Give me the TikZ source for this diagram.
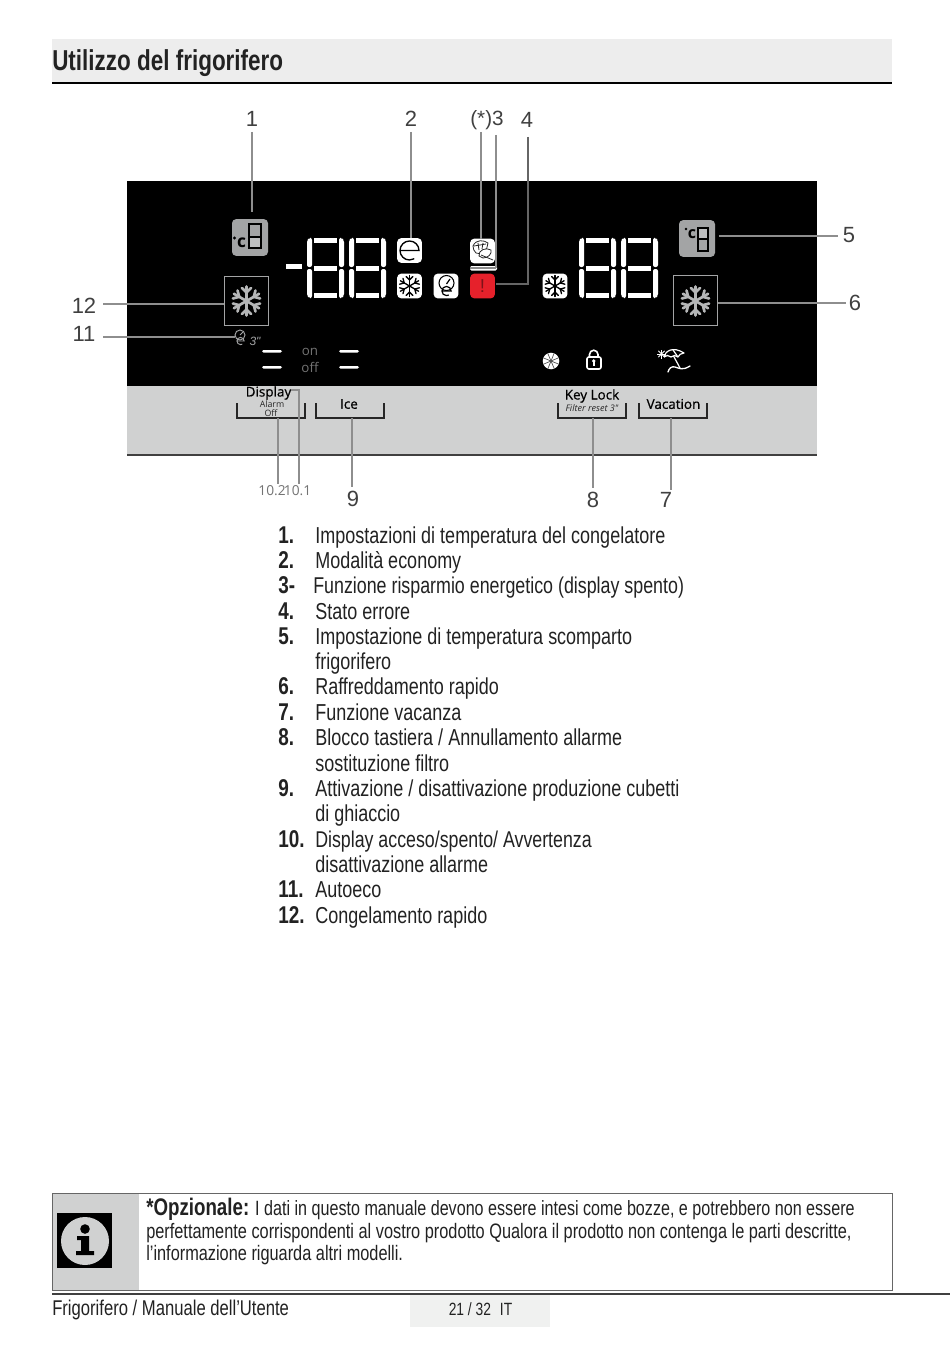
\documentclass[tikz,border=0pt]{standalone}
\usepackage{fontspec}
\setmainfont[FakeStretch=0.78]{Liberation Sans}
\newfontfamily\panelfont{Open Sans}
\newfontfamily\panelbold[RawFeature={embolden=0.6}]{Open Sans}
\newfontfamily\numfont{Liberation Sans}
\definecolor{band}{HTML}{EDEDED}
\definecolor{panelgrey}{HTML}{D0D1D1}
\definecolor{icongrey}{HTML}{A3A4A5}
\definecolor{leader}{HTML}{8E8E8E}
\definecolor{alarmred}{HTML}{E6212B}
\definecolor{textk}{HTML}{222222}
\definecolor{pagegrey}{HTML}{F0F1F0}
\tikzset{
  px/.style={x=0.75pt,y=-0.75pt},
  callout/.style={font=\numfont\fontsize{16.5}{18}\selectfont,text=black!75,inner sep=0pt},
  smallcall/.style={font=\panelfont\fontsize{10.3}{12}\selectfont,text=black!55,inner sep=0pt},
  leaderline/.style={draw=leader,line width=1.1pt},
  listnum/.style={anchor=base west,inner sep=0pt,font=\bfseries\fontsize{18.2}{20}\selectfont,text=textk},
  listtxt/.style={anchor=base west,inner sep=0pt,font=\fontsize{17.3}{20}\selectfont,text=textk},
  notetxt/.style={anchor=base west,inner sep=0pt,font=\fontsize{15.7}{17}\selectfont,text=textk},
  whiteicon/.style={fill=white,rounded corners=3pt,draw=none,minimum width=18.5pt,minimum height=18.5pt,inner sep=0pt},
  greyicon/.style={fill=icongrey,rounded corners=3pt,draw=none,minimum width=27pt,minimum height=27.5pt,inner sep=0pt},
  flakebox/.style={draw=icongrey,line width=0.8pt,fill=black,minimum width=33.5pt,minimum height=37pt,inner sep=0pt},
  btn/.style={draw=black!85,line width=1.1pt},
  btnlabel/.style={font=\panelbold\fontsize{10.1}{12}\selectfont,text=black,inner sep=0pt},
  btnsmall/.style={font=\panelfont\fontsize{6.6}{7}\selectfont,text=black!85,inner sep=0pt},
  seg/.style={fill=white,draw=none},
}
% seven-segment digit: left x, top y (pixels)
\newcommand{\sevenseg}[2]{%
 \begin{scope}[shift={(#1,#2)}]
  \fill[seg,rounded corners=1.5pt] (0,2)--(2,0)--(5,0)--(5,29)--(0,29)--cycle;
  \fill[seg,rounded corners=1.5pt] (0,31)--(5,31)--(5,60)--(2,60)--(0,58)--cycle;
  \fill[seg,rounded corners=1.5pt] (32,0)--(35,0)--(37,2)--(37,29)--(32,29)--cycle;
  \fill[seg,rounded corners=1.5pt] (32,31)--(37,31)--(37,58)--(35,60)--(32,60)--cycle;
  \fill[seg] (7,0) rectangle (30,5);
  \fill[seg] (7,27.5) rectangle (30,32.5);
  \fill[seg] (7,55) rectangle (30,60);
 \end{scope}}
% snowflake: centre, radius, colour, width
\newcommand{\flake}[5]{%
 \begin{scope}[shift={(#1,#2)}]
  \foreach \a in {0,60,...,300}{
   \begin{scope}[rotate=\a+30]
    \draw[#4,line width=#5,line cap=round] (0,0)--(#3,0);
    \draw[#4,line width=#5,line cap=round] (0.58*#3,0)--(0.9*#3,0.32*#3);
    \draw[#4,line width=#5,line cap=round] (0.58*#3,0)--(0.9*#3,-0.32*#3);
   \end{scope}}
 \end{scope}}
% "e" symbol: centre, radius, colour, width
\newcommand{\esym}[5]{%
 \begin{scope}[shift={(#1,#2)}]
  \draw[#4,line width=#5] (-#3,0)--(#3,0) arc[start angle=0,end angle=-300,radius=#3];
 \end{scope}}
\begin{document}
\begin{tikzpicture}[px]
\useasboundingbox (0,0) rectangle (950,1348);
\fill[white] (0,0) rectangle (950,1348);
% header
\fill[band] (52,39) rectangle (892,82);
\draw[black,line width=1.5pt] (52,83) -- (892,83);
\node[anchor=base west,inner sep=0pt,font=\bfseries\fontsize{21.6}{24}\selectfont,text=textk] (title) at (52,71) {Utilizzo del frigorifero};
% panel
\fill[black] (127,181) rectangle (817,386);
\fill[panelgrey] (127,386) rectangle (817,455);
\draw[black!75,line width=0.9pt] (127,455) -- (817,455);
% digits
\fill[white] (286,264) rectangle (302,269);
\sevenseg{307}{238}\sevenseg{349}{238}
\sevenseg{579}{238}\sevenseg{621}{238}
% grey icons
\node[greyicon] (ic1) at (250,237.5) {};
\node[inner sep=0pt,font=\panelfont\bfseries\fontsize{13}{14}\selectfont,text=black] (ic1c) at (241.5,243) {c};
\fill[black] (234.5,238) circle (1.6);
\fill[icongrey!70!white] (249,237) rectangle (261,248);
\draw[black,line width=1pt] (249,224) rectangle (261,248);
\draw[black,line width=1pt] (249,237) -- (261,237);
\node[greyicon] (ic5) at (697,238.5) {};
\node[inner sep=0pt,font=\panelfont\bfseries\fontsize{12}{13}\selectfont,text=black] (ic5c) at (692,234) {c};
\fill[black] (686,229) circle (1.4);
\fill[icongrey!70!white] (698,228) rectangle (708,239);
\draw[black,line width=1pt] (698,228) rectangle (708,251);
\draw[black,line width=1pt] (698,239) -- (708,239);
% flake boxes
\node[flakebox] (bx12) at (246.5,301) {};
\flake{246.5}{301}{14.5}{icongrey!80!white}{2pt}
\node[flakebox] (bx6) at (695.5,300.5) {};
\flake{695.5}{301}{14.5}{icongrey!80!white}{2pt}
% white icons
\node[whiteicon] (icE) at (409.5,250.5) {};
\esym{409.5}{250.5}{9.5}{black}{1pt}
\node[whiteicon] (icS1) at (409.5,286) {};
\flake{409.5}{286}{10.5}{black}{1pt}
\node[whiteicon] (icAE) at (446,286) {};
\draw[black,line width=0.8pt] (446.5,283) circle (7.5);
\draw[black,line width=0.9pt] (446.5,284) -- (450,279);
\esym{446.5}{291}{4.6}{black}{0.9pt}
\node[whiteicon] (icLeaf) at (482.5,251) {};
\draw[black!85,line width=0.6pt] (473,246) .. controls (476,239) and (484,240) .. (488,243) .. controls (488,250) and (481,256) .. (476,253) .. controls (474,251) and (473,249) .. (473,246);
\draw[black!85,line width=0.6pt] (474,246) -- (486,244) (478,243) -- (479,250) (483,243) -- (482,249);
\draw[black!85,line width=0.6pt,fill=white] (479,256) .. controls (478,250) and (486,247) .. (491,250) .. controls (492,254) and (488,258) .. (483,258) -- cycle;
\draw[black!85,line width=0.6pt] (481,255) -- (493,260);
\fill[white,rounded corners=1pt] (470,266) rectangle (497,270.5);
\node[fill=alarmred,rounded corners=3pt,minimum width=18.5pt,minimum height=18.5pt,inner sep=0pt,font=\numfont\fontsize{14}{15}\selectfont,text=alarmred!55!black] (icErr) at (482.5,286) {!};
\node[whiteicon] (icS2) at (555,286) {};
\flake{555}{286}{10.5}{black}{1pt}
% autoeco small
\draw[icongrey,line width=0.7pt] (240,335) circle (5);
\draw[icongrey,line width=0.7pt] (240,335) -- (243,332);
\esym{240.5}{341}{3.6}{icongrey}{0.7pt}
\node[inner sep=0pt,font=\numfont\itshape\fontsize{9}{10}\selectfont,text=icongrey] (three) at (255,341) {3"};
% on/off
\foreach \xa/\xb in {262/282,339/359}{
  \fill[white,rounded corners=1pt] (\xa,350) rectangle (\xb,352.5);
  \fill[white,rounded corners=1pt] (\xa,366) rectangle (\xb,368.5);
}
\node[inner sep=0pt,font=\panelfont\fontsize{10}{12}\selectfont,text=black!55!white] (on) at (310,351.5) {on};
\node[inner sep=0pt,font=\panelfont\fontsize{10}{12}\selectfont,text=black!55!white] (off) at (310,367.5) {off};
% bottom icons
\fill[white] (551,361) circle (8.3);
\foreach \a in {0,45,...,315}{\draw[black!70,line width=0.5pt] (551,361) -- ++(\a+22:8.5);}
\draw[white,line width=1.2pt,rounded corners=1.5pt] (587,357) rectangle (601,369);
\draw[white,line width=1.2pt] (589.5,357) -- (589.5,354.5) arc[start angle=180,end angle=360,radius=4.25] -- (598,357);
\fill[white] (593.7,361) circle (1.8);
\fill[white] (592.7,361) rectangle (594.7,366);
% beach
\draw[white,line width=0.9pt,line join=round] (664,357) .. controls (665,351) and (673,346) .. (684,353) .. controls (681,353) and (679,355) .. (678,357) .. controls (676,355) and (673,355) .. (671,357) .. controls (669,355) and (666,355) .. (664,357);
\draw[white,line width=0.9pt] (673,350) -- (678,357) (673.5,356) -- (680,368);
\draw[white,line width=1pt,line cap=round] (668,372) .. controls (669,368) and (672,366) .. (675,367) .. controls (679,368) and (682,371) .. (690,366);
\foreach \a in {0,45,...,315}{\draw[white,line width=0.6pt] (661.5,354) -- ++(\a:4.5);}
% buttons
\draw[btn] (237,403) |- (305,418) -- (305,403);
\coordinate (b10) at (278,418);
\draw[btn] (316,403) |- (384,418) -- (384,403);
\coordinate (b9) at (352,418);
\draw[btn] (558,403) |- (626,418) -- (626,403);
\coordinate (b8) at (593,418);
\draw[btn] (639,403) |- (707,418) -- (707,403);
\coordinate (b7) at (671,418);
\node[btnlabel] (tDisplay) at (268.5,393) {Display};
\node[btnsmall] (tAlarm) at (272,404) {Alarm};
\node[btnsmall] (tOff) at (271,413) {Off};
\node[btnlabel] (tIce) at (349,404) {Ice};
\node[btnlabel] (tKey) at (592,396) {Key Lock};
\node[btnsmall,font=\panelfont\itshape\fontsize{6.8}{7}\selectfont] (tFilter) at (592,408.5) {Filter reset 3"};
\node[btnlabel] (tVac) at (673.5,404) {Vacation};
% labels
\node[callout,font=\numfont\fontsize{15.5}{18}\selectfont] (n3) at (487,120) {(*)3};
\node[callout] (n1) at (252,119) {1};
\node[callout] (n2) at (411,119) {2};
\node[callout] (n4) at (527,120) {4};
\node[callout] (n5) at (849,235) {5};
\node[callout] (n6) at (855,303) {6};
\node[callout] (n12) at (84,306) {12};
\node[callout] (n11) at (84,334) {11};
\node[callout] (n9) at (353,498.5) {9};
\node[callout] (n8) at (593,500) {8};
\node[callout] (n7) at (666,500) {7};
\node[smallcall] (n102) at (272,491) {10.2};
\node[smallcall] (n101) at (297.5,491) {10.1};
% connector ends
\coordinate (a1) at (252,132); \coordinate (e1) at (252,212);
\coordinate (a2) at (411,132); \coordinate (e2) at (411,238);
\coordinate (a3s) at (481,132); \coordinate (e3s) at (481,239);
\coordinate (a3) at (496,135); \coordinate (e3) at (496,268);
\coordinate (a4) at (528,137); \coordinate (e4) at (528,284);
\coordinate (e4b) at (496,284);
\coordinate (a5) at (719,236); \coordinate (e5) at (838,236);
\coordinate (a6) at (718,303); \coordinate (e6) at (846,303);
\coordinate (a12) at (103,304); \coordinate (e12) at (224,304);
\coordinate (a11) at (103,337); \coordinate (e11) at (235,337);
\coordinate (e102) at (278,484);
\coordinate (a101) at (291,390); \coordinate (k101) at (299,390); \coordinate (e101) at (299,484);
\coordinate (e9) at (352,487);
\coordinate (e8) at (593,488);
\coordinate (e7) at (671,490);
\draw[leaderline] (a1) -- (e1);
\draw[leaderline] (a2) -- (e2);
\draw[leaderline] (a3s) -- (e3s);
\draw[leaderline] (a3) -- (e3);
\draw[leaderline] (e3) -- (470,268);
\draw[leaderline,draw=black!60] (a4) -- (528,181);
\draw[leaderline,draw=black!60!white] (528,181) -- (e4) -- (e4b);
\draw[leaderline] (a5) -- (e5);
\draw[leaderline] (a6) -- (e6);
\draw[leaderline] (a12) -- (e12);
\draw[leaderline] (a11) -- (e11);
\draw[leaderline] (b10) -- (e102);
\draw[leaderline] (a101) -- (k101) -- (e101);
\draw[leaderline] (b9) -- (e9);
\draw[leaderline] (b8) -- (e8);
\draw[leaderline] (b7) -- (e7);
% list
\foreach \num/\yy in {1./543,2./568,4./619,5./644,6./694,7./720,8./745,9./796,10./847,11./897,12./923}{
  \node[listnum] at (278,\yy) {\num};
}
\node[listnum] (num3) at (278,593.5) {3-};
\node[listtxt] (t1) at (315,543) {Impostazioni di temperatura del congelatore};
\node[listtxt] (t2) at (315,568) {Modalità economy};
\node[listtxt,font=\fontsize{17.15}{20}\selectfont] (t3) at (313,593.5) {Funzione risparmio energetico (display spento)};
\node[listtxt] (t4) at (315,619) {Stato errore};
\node[listtxt] (t5) at (315,644) {Impostazione di temperatura scomparto};
\node[listtxt] (t5b) at (315,669) {frigorifero};
\node[listtxt] (t6) at (315,694) {Raffreddamento rapido};
\node[listtxt] (t7) at (315,720) {Funzione vacanza};
\node[listtxt] (t8) at (315,745) {Blocco tastiera / Annullamento allarme};
\node[listtxt] (t8b) at (315,771) {sostituzione filtro};
\node[listtxt] (t9) at (315,796) {Attivazione / disattivazione produzione cubetti};
\node[listtxt] (t9b) at (315,821) {di ghiaccio};
\node[listtxt,font=\fontsize{17.1}{20}\selectfont] (t10) at (315,847) {Display acceso/spento/ Avvertenza};
\node[listtxt] (t10b) at (315,872) {disattivazione allarme};
\node[listtxt] (t11) at (315,897) {Autoeco};
\node[listtxt] (t12) at (315,923) {Congelamento rapido};
% note box
\fill[panelgrey] (52,1193) rectangle (139,1290);
\draw[black!60,line width=0.6pt] (52,1193) rectangle (892,1290);
\fill[black] (57,1213) rectangle (112,1268);
\fill[panelgrey] (85,1241) circle (24);
\fill[black] (85,1229) circle (4.8);
\fill[black] (77,1236) -- (89,1236) -- (89,1251) -- (94,1251) -- (94,1255) -- (76,1255) -- (76,1251) -- (81,1251) -- (81,1240) -- (77,1240) -- cycle;
\node[notetxt] (ln1a) at (146,1215) {\bfseries\fontsize{18}{20}\selectfont *Opzionale:\mdseries\fontsize{15.5}{17}\selectfont{} I dati in questo manuale devono essere intesi come bozze, e potrebbero non essere};
\node[notetxt] (ln2) at (146,1238) {perfettamente corrispondenti al vostro prodotto Qualora il prodotto non contenga le parti descritte,};
\node[notetxt] (ln3) at (146,1260) {l'informazione riguarda altri modelli.};
% footer
\fill[pagegrey] (410,1295) rectangle (550,1327);
\draw[black!75,line width=0.8pt] (52,1294) -- (950,1294);
\node[anchor=base west,inner sep=0pt,font=\fontsize{16}{19}\selectfont,text=textk] (foot) at (52,1315) {Frigorifero / Manuale dell’Utente};
\node[anchor=base,inner sep=0pt,font=\fontsize{13.3}{14}\selectfont,text=textk] (pg) at (480.5,1315) {21 / 32\hspace{0.5em}IT};
\end{tikzpicture}
\end{document}
